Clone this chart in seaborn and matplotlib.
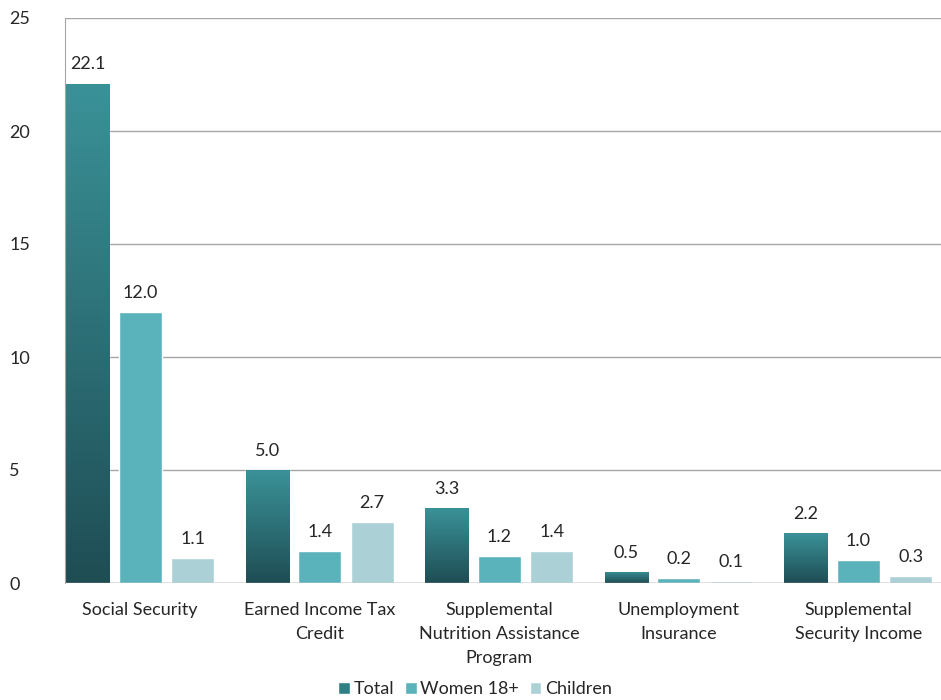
import numpy as np
import pandas as pd
import seaborn as sns
import matplotlib.pyplot as plt
from matplotlib.colors import LinearSegmentedColormap

# data
programs = [
    "Social Security",
    "Earned Income Tax\nCredit",
    "Supplemental\nNutrition Assistance\nProgram",
    "Unemployment\nInsurance",
    "Supplemental\nSecurity Income",
]
total = [22.1, 5.0, 3.3, 0.5, 2.2]
women = [12.0, 1.4, 1.2, 0.2, 1.0]
children = [1.1, 2.7, 1.4, 0.1, 0.3]
series = ["Total", "Women 18+", "Children"]
colors = ["#2f7f86", "#5ab3bb", "#abd0d6"]

df = pd.DataFrame({
    "program": programs * 3,
    "series": [s for s in series for _ in programs],
    "value": total + women + children,
})

sns.set_style("white")
plt.rcParams["font.family"] = ["Lato", "DejaVu Sans"]

fig = plt.figure(figsize=(9.41, 7.0), dpi=100)
ax = fig.add_axes([65 / 941, 1 - 583 / 700, 1 - 65 / 941, (583 - 18) / 700])

sns.barplot(data=df, x="program", y="value", hue="series", palette=colors,
            width=0.877, gap=0.18, saturation=1, ax=ax, legend=True)

# gradient on the Total bars
cmap = LinearSegmentedColormap.from_list("tot", ["#1f4d54", "#3a9298"])
grad = np.linspace(0, 1, 256).reshape(-1, 1)
for p in ax.containers[0].patches:
    x0, y0 = p.get_x(), p.get_y()
    w, h = p.get_width(), p.get_height()
    im = ax.imshow(grad, cmap=cmap, origin="lower", aspect="auto",
                   extent=[x0, x0 + w, y0, y0 + h], zorder=p.get_zorder() + 0.1)
    im.set_clip_path(p)

# value labels
for cont in ax.containers:
    ax.bar_label(cont, fmt="%.1f", padding=8, fontsize=13)

ax.set_xlim(-0.418, 4.46)
ax.set_ylim(0, 25)
ax.set_yticks(range(0, 26, 5))
ax.yaxis.grid(True, color="#a6a6a6", linewidth=1)
ax.set_axisbelow(True)
for s in ["top", "right", "bottom"]:
    ax.spines[s].set_visible(False)
ax.spines["left"].set_color("#a6a6a6")
ax.axhline(0, color="#a6a6a6", linewidth=1, zorder=5)
ax.set_xlabel("")
ax.set_ylabel("")
ax.tick_params(axis="both", length=0, labelsize=13)
ax.tick_params(axis="y", pad=40)
ax.tick_params(axis="x", pad=14)
for t in ax.get_yticklabels():
    t.set_horizontalalignment("left")
for t in ax.get_xticklabels():
    t.set_linespacing(1.6)

handles, labels = ax.get_legend_handles_labels()
ax.get_legend().remove()
fig.legend(handles, labels, loc="center", bbox_to_anchor=(475 / 941, 1 - 689 / 700),
           ncol=3, frameon=False, fontsize=13, handlelength=0.65, handleheight=0.65,
           handletextpad=0.2, columnspacing=0.6, borderpad=0)

fig.savefig("out.png", dpi=100)
